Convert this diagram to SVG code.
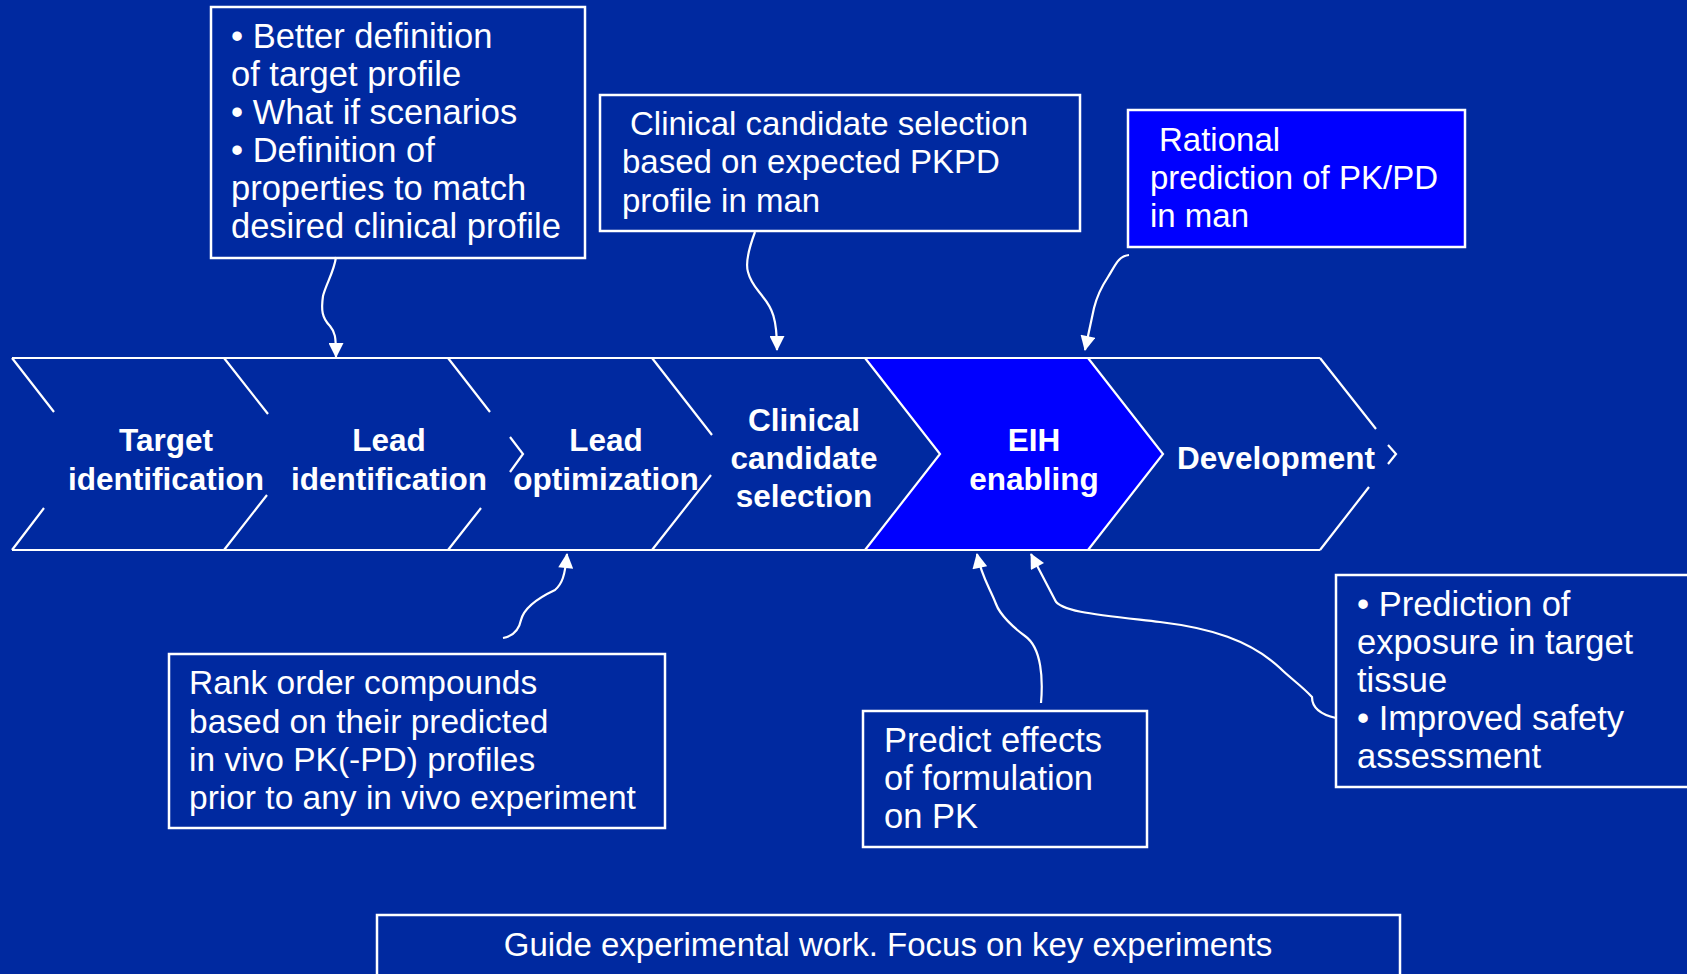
<svg xmlns="http://www.w3.org/2000/svg" width="1687" height="974" viewBox="0 0 1687 974">
<defs>
<style>
.bg{fill:#0029A0}
.box{fill:#0029A0;stroke:#ffffff;stroke-width:2.5}
.boxhi{fill:#0000FF;stroke:#ffffff;stroke-width:2.5}
.band{fill:none;stroke:#ffffff;stroke-width:2.2;stroke-linecap:butt}
.lbl{font-family:"Liberation Sans",Arial,sans-serif;font-weight:bold;font-size:31.5px;fill:#ffffff;text-anchor:middle}
.txt{font-family:"Liberation Sans",Arial,sans-serif;font-size:33px;fill:#ffffff}
.wide{font-size:34.5px}
.con{fill:none;stroke:#ffffff;stroke-width:2.2;marker-end:url(#arr)}
</style>
<marker id="arr" viewBox="0 0 16 16" refX="15" refY="8" markerWidth="16" markerHeight="15" markerUnits="userSpaceOnUse" orient="auto">
<path d="M0,0 L16,8 L0,16 z" fill="#ffffff"/>
</marker>
</defs>
<rect class="bg" x="0" y="0" width="1687" height="974"/>

<g id="stages">
<polygon id="eih-fill" points="865,358 1088,358 1163,454 1088,550 865,550 940,454" fill="#0000FF"/>
<path class="band" d="M12,358 H1320 M12,550 H1320
M12,358 L54,412 M44,508 L12,550
M224,358 L268,414 M267,495 L224,550
M448,358 L490,412 M510,437 L523,454 L510,472 M481,508 L448,550
M652,358 L712,435 M711,475 L652,550
M865,358 L940,454 L865,550
M1088,358 L1163,454 L1088,550
M1320,358 L1376,429 M1388,445 L1396,454 L1388,464 M1369,487 L1320,550"/>
</g>

<g id="stage-target"><text class="lbl"><tspan x="166" y="451">Target</tspan><tspan x="166" y="490">identification</tspan></text></g>
<g id="stage-leadid"><text class="lbl"><tspan x="389" y="451">Lead</tspan><tspan x="389" y="490">identification</tspan></text></g>
<g id="stage-leadopt"><text class="lbl"><tspan x="606" y="451">Lead</tspan><tspan x="606" y="490">optimization</tspan></text></g>
<g id="stage-ccs"><text class="lbl"><tspan x="804" y="431">Clinical</tspan><tspan x="804" y="469">candidate</tspan><tspan x="804" y="507">selection</tspan></text></g>
<g id="stage-eih"><text class="lbl"><tspan x="1034" y="451">EIH</tspan><tspan x="1034" y="490">enabling</tspan></text></g>
<g id="stage-dev"><text class="lbl"><tspan x="1276" y="469">Development</tspan></text></g>

<g id="note-target">
<rect class="box" x="211" y="7" width="374" height="251"/>
<text class="txt wide"><tspan x="231" y="48">• Better definition</tspan><tspan x="231" y="86">of target profile</tspan><tspan x="231" y="124">• What if scenarios</tspan><tspan x="231" y="162">• Definition of</tspan><tspan x="231" y="200">properties to match</tspan><tspan x="231" y="238">desired clinical profile</tspan></text>
</g>

<g id="note-ccs">
<rect class="box" x="600" y="95" width="480" height="136"/>
<text class="txt"><tspan x="630" y="135">Clinical candidate selection</tspan><tspan x="622" y="173">based on expected PKPD</tspan><tspan x="622" y="212">profile in man</tspan></text>
</g>

<g id="note-rational">
<rect class="boxhi" x="1128" y="110" width="337" height="137"/>
<text class="txt"><tspan x="1159" y="151">Rational</tspan><tspan x="1150" y="189">prediction of PK/PD</tspan><tspan x="1150" y="227">in man</tspan></text>
</g>

<g id="note-rank">
<rect class="box" x="169" y="654" width="496" height="174"/>
<text class="txt" style="font-size:33.5px"><tspan x="189" y="694">Rank order compounds</tspan><tspan x="189" y="733">based on their predicted</tspan><tspan x="189" y="771">in vivo PK(-PD) profiles</tspan><tspan x="189" y="809">prior to any in vivo experiment</tspan></text>
</g>

<g id="note-formulation">
<rect class="box" x="863" y="711" width="284" height="136"/>
<text class="txt wide"><tspan x="884" y="752">Predict effects</tspan><tspan x="884" y="790">of formulation</tspan><tspan x="884" y="828">on PK</tspan></text>
</g>

<g id="note-exposure">
<rect class="box" x="1336" y="575" width="370" height="212"/>
<text class="txt wide"><tspan x="1357" y="616">• Prediction of</tspan><tspan x="1357" y="654">exposure in target</tspan><tspan x="1357" y="692">tissue</tspan><tspan x="1357" y="730">• Improved safety</tspan><tspan x="1357" y="768">assessment</tspan></text>
</g>

<g id="note-guide">
<rect class="box" x="377" y="915" width="1023" height="80"/>
<text class="txt" x="888" y="956" text-anchor="middle">Guide experimental work. Focus on key experiments</text>
</g>

<g id="connectors">
<path class="con" d="M336,257 C334,272 326,284 323,296 C321,310 322,318 330,326 C335,332 336,336 336,357"/>
<path class="con" d="M755,232 C749,248 745,262 748,272 C751,284 758,290 763,297 C772,308 777,318 777,350"/>
<path class="con" d="M1129,255 C1118,256 1115,266 1108,277 C1100,289 1097,296 1094,308 L1085,350"/>
<path class="con" d="M503,638 C514,636 519,630 521,620 C524,608 538,598 555,590 C562,584 565,576 567,554"/>
<path class="con" d="M1041,703 C1043,680 1042,648 1025,636 C1014,628 1000,615 996,604 C990,588 982,578 977,554"/>
<path class="con" d="M1336,718 C1318,714 1312,706 1312,697 C1302,686 1290,678 1280,668 C1250,640 1210,628 1160,622 C1100,615 1060,612 1055,600 L1031,554"/>
</g>
</svg>
